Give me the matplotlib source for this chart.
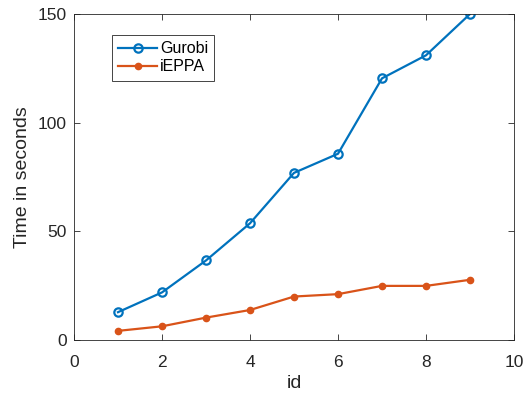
import matplotlib
matplotlib.use("Agg")
import matplotlib.pyplot as plt

ids = [1, 2, 3, 4, 5, 6, 7, 8, 9]
gurobi = [12.8, 21.9, 36.6, 53.7, 76.9, 85.7, 120.4, 131.0, 150.0]
ieppa = [4.2, 6.3, 10.3, 13.8, 20.0, 21.1, 24.9, 24.9, 27.7]
xticks = [0, 2, 4, 6, 8, 10]
yticks = [0, 50, 100, 150]

plt.rcParams['font.family'] = ['Liberation Sans', 'DejaVu Sans']
dark = '#262626'

fig = plt.figure(figsize=(5.29, 3.95), dpi=100)
ax = fig.add_axes([74/529, 1-340/395, 440/529, 326/395])

blue = (0, 0.447, 0.741)
orange = (0.85, 0.325, 0.098)
ax.plot(ids, gurobi, color=blue, lw=1.6, marker='o', ms=6, mfc='none', mew=1.6, label='Gurobi')
ax.plot(ids, ieppa, color=orange, lw=1.6, marker='o', ms=4.5, mfc=orange, mec=orange, label='iEPPA')

ax.set_xlim(0, 10)
ax.set_ylim(0, 150)
ax.set_xticks(xticks)
ax.set_yticks(yticks)
ax.tick_params(direction='in', top=True, right=True, length=4, width=0.6, colors=dark,
               labelsize=12.5)
ax.tick_params(axis='x', pad=10.5)
ax.tick_params(axis='y', pad=5)
for s in ax.spines.values():
    s.set_color(dark)
    s.set_linewidth(0.6)
ax.set_xlabel('id', fontsize=14, color=dark, labelpad=4)
ax.set_ylabel('Time in seconds', fontsize=14, color=dark, labelpad=5)

leg = ax.legend(loc='upper left', bbox_to_anchor=(0.086, 0.936), borderaxespad=0,
                fancybox=False, edgecolor=dark, fontsize=11.5, handlelength=2.45,
                handletextpad=0.15, borderpad=0.4, labelspacing=0.2, framealpha=1)
leg.get_frame().set_linewidth(0.6)

fig.savefig('out.png', dpi=100)
